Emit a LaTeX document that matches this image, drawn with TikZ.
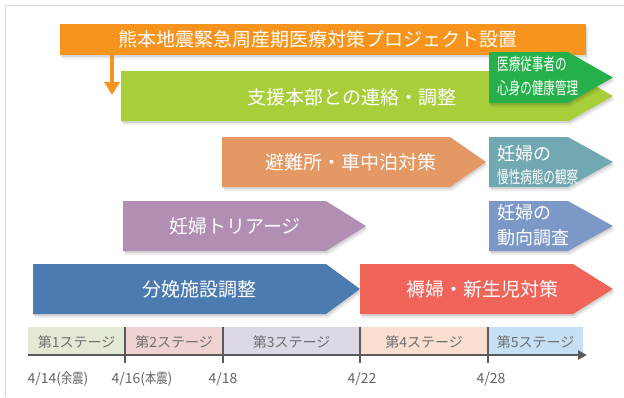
\documentclass[tikz,border=0pt]{standalone}
\usepackage{fontspec}
\usepackage{graphicx}
\newfontfamily\jp{Noto Sans CJK JP}
\usetikzlibrary{arrows.meta}
\definecolor{cOrange}{RGB}{247,148,30}
\definecolor{cLime}{RGB}{168,207,57}
\definecolor{cDGreen}{RGB}{38,176,76}
\definecolor{cTan}{RGB}{228,152,100}
\definecolor{cTeal}{RGB}{114,168,178}
\definecolor{cPurple}{RGB}{178,141,180}
\definecolor{cSteel}{RGB}{124,152,198}
\definecolor{cBlue}{RGB}{75,123,176}
\definecolor{cRed}{RGB}{240,100,90}
\definecolor{sA}{RGB}{226,234,214}
\definecolor{sB}{RGB}{239,211,211}
\definecolor{sC}{RGB}{221,215,230}
\definecolor{sD}{RGB}{250,223,208}
\definecolor{sE}{RGB}{197,224,244}
\definecolor{frameGray}{RGB}{217,217,217}
\definecolor{axisGray}{RGB}{90,90,90}
\definecolor{labelGray}{RGB}{100,100,100}
\definecolor{stageGray}{RGB}{110,110,110}
% #1 colour, #2 left x, #3 body end x, #4 tip x, #5 top y, #6 bottom y
\newcommand\chevshape[6]{%
  \fill[black,opacity=0.07] (#2+2,-#5-4) -- (#3+2,-#5-4) -- (#4+2,{-(#5+#6)/2-4}) -- (#3+2,-#6-4) -- (#2+2,-#6-4) -- cycle;
  \fill[black,opacity=0.10] (#2+1,-#5-2) -- (#3+1,-#5-2) -- (#4+1,{-(#5+#6)/2-2}) -- (#3+1,-#6-2) -- (#2+1,-#6-2) -- cycle;
  \fill[#1] (#2,-#5) -- (#3,-#5) -- (#4,{-(#5+#6)/2}) -- (#3,-#6) -- (#2,-#6) -- cycle;
}
\tikzset{
  mainlbl/.style={font=\jp\fontsize{19}{19}\selectfont, text=white, inner sep=0pt},
  boxlbl/.style={font=\jp\fontsize{18}{18}\selectfont, text=white, inner sep=0pt, anchor=west},
  smalllbl/.style={font=\jp\fontsize{17}{17}\selectfont, text=white, inner sep=0pt, anchor=west},
  stagelbl/.style={font=\jp\fontsize{14}{14}\selectfont, text=stageGray, inner sep=0pt},
  datelbl/.style={font=\jp\fontsize{14}{14}\selectfont, text=labelGray, inner sep=0pt},
  tickline/.style={axisGray, line width=2pt},
}
\begin{document}
\begin{tikzpicture}[x=1pt,y=1pt]
\useasboundingbox (0,0) rectangle (624,-397);
% frame
\draw[frameGray, line width=1pt] (5,-397) -- (5,-5.5) -- (624,-5.5);

% title bar
\fill[black,opacity=0.07] (62,-28) rectangle (588,-59);
\fill[black,opacity=0.10] (61,-26) rectangle (587,-57);
\node[fill=cOrange, minimum width=526pt, minimum height=31pt, inner sep=0pt] (titlebar) at (323,-39.5) {};
\node[mainlbl] (title) at (318,-39.5) {熊本地震緊急周産期医療対策プロジェクト設置};
\coordinate (arrEnd) at (112,-95);
\draw[cOrange, line width=4pt, -{Triangle[length=13pt,width=15pt]}] (titlebar.south -| arrEnd) -- (arrEnd);

% support HQ
\chevshape{cLime}{121}{569}{613}{71}{121}
\node[mainlbl] (hq) at (352,-97) {支援本部との連絡・調整};
\chevshape{cDGreen}{489}{568}{613}{52}{103}
\node[smalllbl] (dg1) at (497,-64) {\scalebox{0.68}[1]{医療従事者の}};
\node[smalllbl] (dg2) at (497,-88) {\scalebox{0.68}[1]{心身の健康管理}};

% shelters
\chevshape{cTan}{222}{450}{486}{137}{187}
\node[mainlbl] (shelter) at (351,-162) {避難所・車中泊対策};
\chevshape{cTeal}{489}{568}{613}{137}{187}
\node[boxlbl] (tl1) at (497,-154) {妊婦の};
\node[smalllbl] (tl2) at (497,-177) {\scalebox{0.68}[1]{慢性病態の観察}};

% triage
\chevshape{cPurple}{123}{326}{366}{201}{251}
\node[mainlbl] (triage) at (235,-226) {妊婦トリアージ};
\chevshape{cSteel}{489}{568}{613}{201}{251}
\node[boxlbl] (st1) at (497,-213) {妊婦の};
\node[boxlbl] (st2) at (497,-238) {動向調査};

% delivery / postpartum
\chevshape{cBlue}{33}{326}{360}{264}{314}
\node[mainlbl] (deliv) at (199,-289) {分娩施設調整};
\chevshape{cRed}{360}{573}{613}{264}{314}
\node[mainlbl] (post) at (482,-289) {褥婦・新生児対策};

% stage bar
\fill[sA] (28,-327) rectangle (125,-355);
\fill[sB] (125,-327) rectangle (223,-355);
\fill[sC] (223,-327) rectangle (360,-355);
\fill[sD] (360,-327) rectangle (488,-355);
\fill[sE] (488,-327) rectangle (583,-355);
\node[stagelbl] (s1) at (76.5,-342) {第1ステージ};
\node[stagelbl] (s2) at (174,-342) {第2ステージ};
\node[stagelbl] (s3) at (291.5,-342) {第3ステージ};
\node[stagelbl] (s4) at (424,-342) {第4ステージ};
\node[stagelbl] (s5) at (535.5,-342) {第5ステージ};

% axis
\coordinate (axStart) at (28,-355);
\coordinate (axEnd) at (587,-355);
\draw[axisGray, line width=2.5pt, -{Triangle[length=9pt,width=9pt]}] (axStart) -- (axEnd);
\foreach \tx in {125,223,360,488}{
  \draw[tickline] (\tx,-327) -- (\tx,-363);
}

% dates
\node[datelbl] (d1) at (58,-379) {4/14(\scalebox{0.8}[1]{余震})};
\node[datelbl] (d2) at (142,-379) {4/16(\scalebox{0.8}[1]{本震})};
\node[datelbl] (d3) at (223,-379) {4/18};
\node[datelbl] (d4) at (362,-379) {4/22};
\node[datelbl] (d5) at (491,-379) {4/28};
\end{tikzpicture}
\end{document}
